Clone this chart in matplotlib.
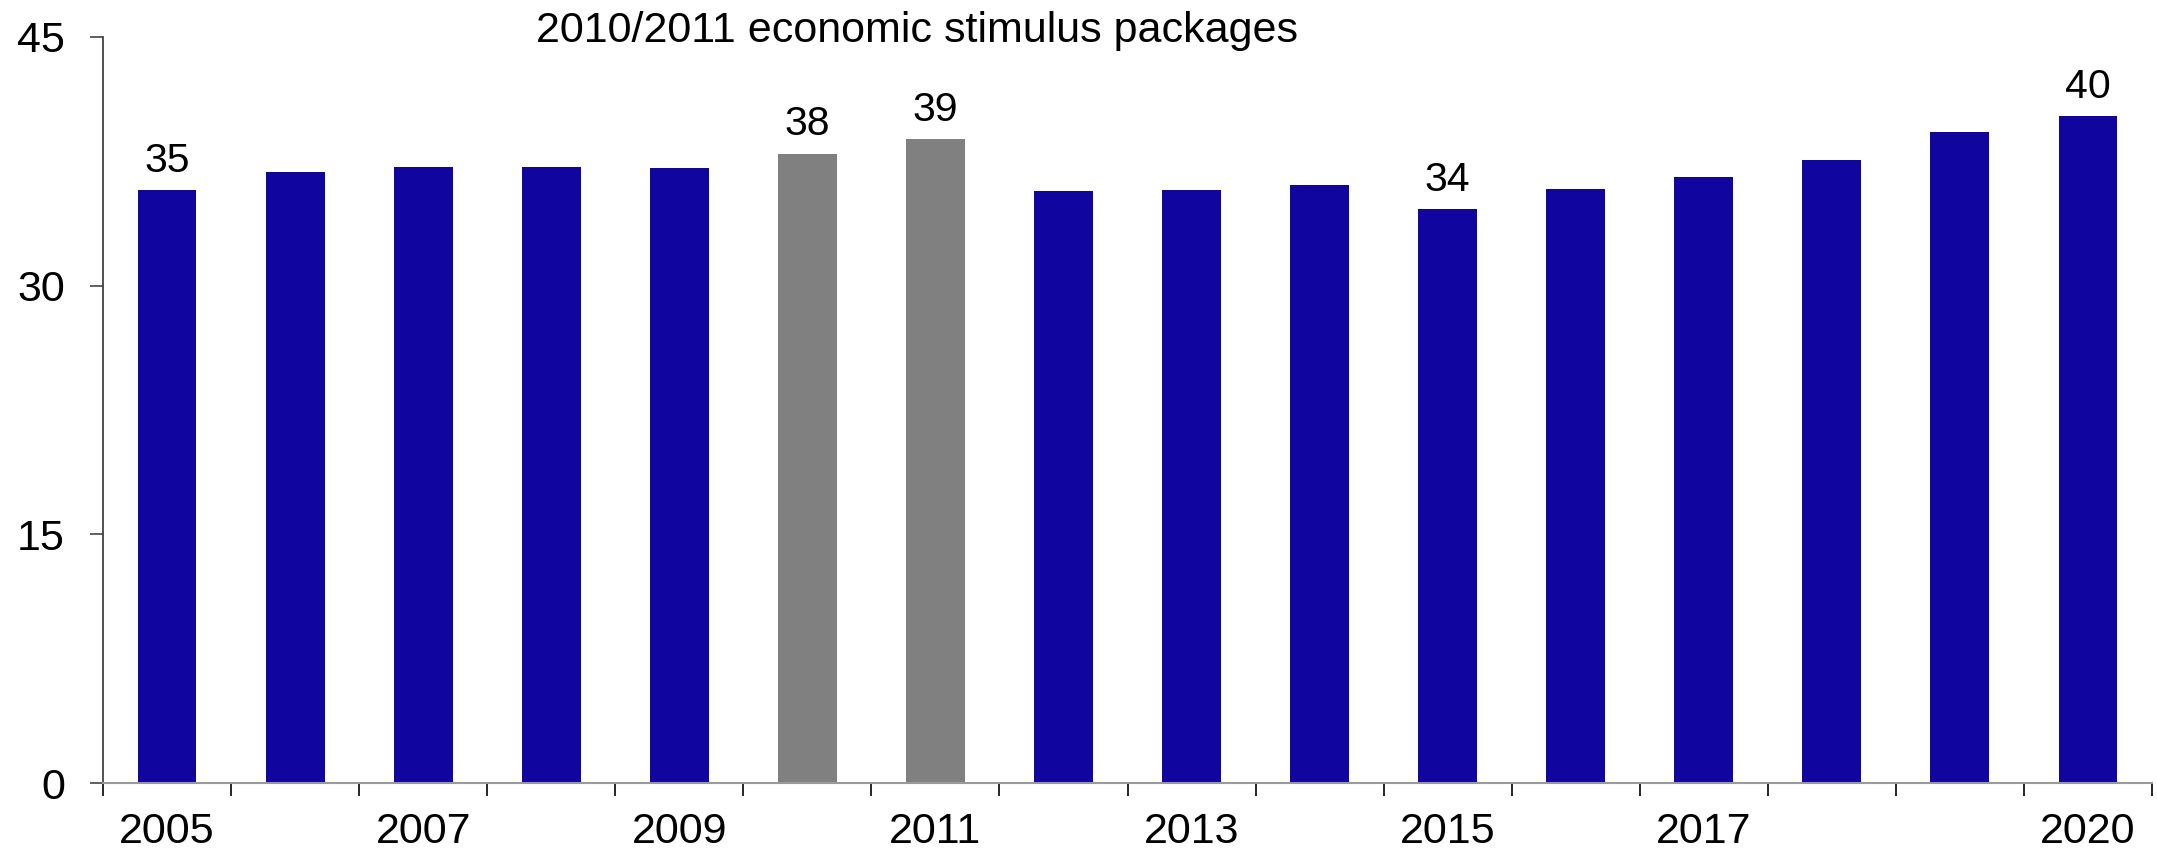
import matplotlib
matplotlib.use("Agg")
import matplotlib.pyplot as plt

plt.rcParams['font.family'] = ['Liberation Sans', 'DejaVu Sans']

years = [2005, 2006, 2007, 2008, 2009, 2010, 2011, 2012, 2013, 2014,
         2015, 2016, 2017, 2018, 2019, 2020]
values = [35.75, 36.87, 37.15, 37.15, 37.09, 37.97, 38.82, 35.71, 35.78,
          36.08, 34.63, 35.84, 36.57, 37.57, 39.28, 40.25]
stimulus_years = [2010, 2011]
labelled = {2005: "35", 2010: "38", 2011: "39", 2015: "34", 2020: "40"}
xtick_years = [2005, 2007, 2009, 2011, 2013, 2015, 2017, 2020]
yticks = [0, 15, 30, 45]
title = "2010/2011 economic stimulus packages"

BLUE = "#10069f"
GREY = "#808080"

fig = plt.figure(figsize=(21.57, 8.55), dpi=100)
ax = fig.add_axes([103/2157, 1 - 783/855, (2152-103)/2157, (783-37)/855])

pos = list(range(len(years)))
colors = [GREY if y in stimulus_years else BLUE for y in years]
ax.bar(pos, values, width=0.46, color=colors, zorder=2)

for p, y, v in zip(pos, years, values):
    if y in labelled:
        ax.annotate(labelled[y], (p, v), xytext=(0, 13), textcoords="offset points",
                    ha="center", va="baseline", fontsize=29.5)

ax.set_xlim(-0.5, len(years) - 0.5)
ax.set_ylim(0, 45)
ax.set_yticks(yticks)
ax.set_yticklabels([str(t) for t in yticks], fontsize=31)
ax.set_xticks([p - 0.5 for p in range(len(years) + 1)])
ax.set_xticklabels([])
ax.set_xticks([years.index(y) for y in xtick_years], minor=True)
ax.set_xticklabels([str(y) for y in xtick_years], minor=True, fontsize=31)

ax.tick_params(axis="y", length=9.5, width=1.2, color="#444444", pad=18)
ax.tick_params(axis="x", which="major", length=9, width=1.2, color="black", direction="out")
ax.tick_params(axis="x", which="minor", length=0, pad=21)

for s in ["top", "right"]:
    ax.spines[s].set_visible(False)
ax.spines["left"].set_color("#333333")
ax.spines["left"].set_linewidth(1.2)
ax.spines["bottom"].set_color("#999999")
ax.spines["bottom"].set_linewidth(1.5)
ax.spines["bottom"].set_zorder(3)

fig.text(917/2157, 1 - 42/855, title, ha="center", va="baseline", fontsize=31)

fig.savefig("out.png", dpi=100)
